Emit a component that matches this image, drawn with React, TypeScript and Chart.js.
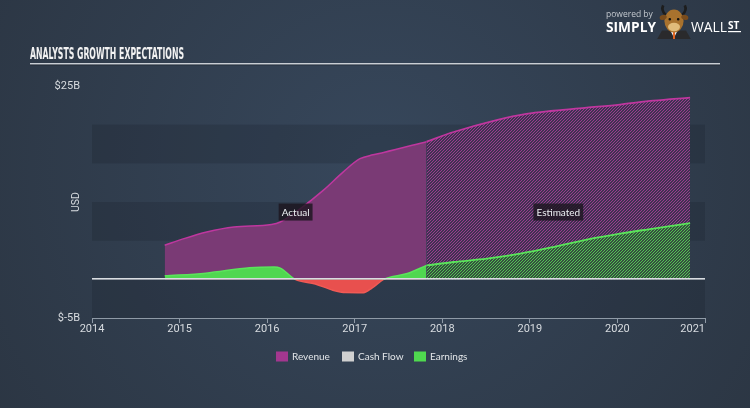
import React, { useEffect, useRef } from "react";
import { Chart, registerables } from "chart.js";

Chart.register(...registerables);

// ---- data (billions USD, x as decimal year) ----
const xTickYears = [2014, 2015, 2016, 2017, 2018, 2019, 2020, 2021];
const yTickValues = [-5, 25];
const yTickLabels = ["$-5B", "$25B"];

const revenueActualX = [2014.83, 2015.05, 2015.31, 2015.62, 2016.05, 2016.15, 2016.38, 2016.64, 2016.87, 2017.06, 2017.21, 2017.33, 2017.82];
const revenueActualY = [4.4, 5.26, 6.12, 6.77, 7.08, 7.41, 9.15, 11.5, 13.9, 15.6, 16.1, 16.4, 17.8];

const revenueEstX = [2017.82, 2018.13, 2018.62, 2018.96, 2019.27, 2019.65, 2020.03, 2020.41, 2020.83];
const revenueEstY = [17.8, 19.05, 20.6, 21.4, 21.8, 22.2, 22.6, 23.1, 23.5];

const earningsActualX = [2014.83, 2015.3, 2015.8, 2016.08, 2016.15, 2016.32, 2016.55, 2016.75, 2016.9, 2017.1, 2017.2, 2017.33, 2017.6, 2017.82];
const earningsActualY = [0.45, 0.8, 1.5, 1.6, 1.45, 0.0, -0.6, -1.4, -1.7, -1.72, -1.1, 0.0, 0.75, 1.8];

const earningsEstX = [2017.82, 2018.13, 2018.51, 2018.89, 2019.27, 2019.65, 2020.03, 2020.41, 2020.83];
const earningsEstY = [1.8, 2.24, 2.67, 3.32, 4.18, 5.14, 5.91, 6.56, 7.28];

const legendLabels = ["Revenue", "Cash Flow", "Earnings"];
const legendColors = ["#a3378f", "#d0d0d0", "#4fd94f"];

const regionLabels = ["Actual", "Estimated"];
const regionLabelValue = 8.7;

const zip = (xs: number[], ys: number[]) => xs.map((x, i) => ({ x, y: ys[i] }));

function makeHatch(bg: string, fg: string, size = 3) {
  const c = document.createElement("canvas");
  c.width = size;
  c.height = size;
  const g = c.getContext("2d")!;
  g.fillStyle = bg;
  g.fillRect(0, 0, size, size);
  g.strokeStyle = fg;
  g.lineWidth = 1;
  g.beginPath();
  g.moveTo(0, size);
  g.lineTo(size, 0);
  g.moveTo(-1, 1);
  g.lineTo(1, -1);
  g.moveTo(size - 1, size + 1);
  g.lineTo(size + 1, size - 1);
  g.stroke();
  return g.createPattern(c, "repeat")!;
}

const REV_FILL = "#7a3a75";
const REV_LINE = "#bf379f";
const EARN_FILL = "#50d750";
const EARN_LINE = "#5be45b";
const NEG_FILL = "#e8504e";
const NEG_LINE = "#f05a55";
const TEXT = "#d8dce0";

function drawBull(ctx: CanvasRenderingContext2D, cx: number, cy: number, s: number) {
  ctx.save();
  ctx.translate(cx, cy);
  ctx.scale(s, s);
  // suit
  ctx.fillStyle = "#2a2a2c";
  ctx.beginPath();
  ctx.moveTo(-10, 8);
  ctx.lineTo(10, 8);
  ctx.lineTo(14, 15);
  ctx.lineTo(-14, 15);
  ctx.closePath();
  ctx.fill();
  ctx.fillStyle = "#f2f2f2";
  ctx.beginPath();
  ctx.moveTo(-3, 8);
  ctx.lineTo(3, 8);
  ctx.lineTo(0, 14);
  ctx.closePath();
  ctx.fill();
  ctx.fillStyle = "#e8641e";
  ctx.fillRect(-0.8, 9, 1.6, 6);
  // horns
  ctx.strokeStyle = "#1d1d1d";
  ctx.lineWidth = 2.2;
  ctx.beginPath();
  ctx.moveTo(-7, -5);
  ctx.quadraticCurveTo(-11, -9, -9, -13);
  ctx.moveTo(7, -5);
  ctx.quadraticCurveTo(11, -9, 9, -13);
  ctx.stroke();
  // head
  ctx.fillStyle = "#a8722e";
  ctx.beginPath();
  ctx.ellipse(0, 0, 8, 9.5, 0, 0, Math.PI * 2);
  ctx.fill();
  ctx.fillStyle = "#7a4c1c";
  ctx.beginPath();
  ctx.ellipse(-9, -3, 3, 2, -0.3, 0, Math.PI * 2);
  ctx.ellipse(9, -3, 3, 2, 0.3, 0, Math.PI * 2);
  ctx.fill();
  ctx.fillStyle = "#e0bb7a";
  ctx.beginPath();
  ctx.ellipse(0, 5, 5, 3.5, 0, 0, Math.PI * 2);
  ctx.fill();
  ctx.fillStyle = "#111";
  ctx.beginPath();
  ctx.arc(-3.5, -1.5, 1.1, 0, Math.PI * 2);
  ctx.arc(3.5, -1.5, 1.1, 0, Math.PI * 2);
  ctx.fill();
  ctx.restore();
}

const decorPlugin = {
  id: "decor",
  beforeDraw(chart: any) {
    const { ctx, chartArea, scales } = chart;
    const W = chart.width;
    const H = chart.height;
    ctx.save();
    const grad = ctx.createRadialGradient(380, 170, 30, 380, 170, 480);
    grad.addColorStop(0, "#36465a");
    grad.addColorStop(1, "#2b3542");
    ctx.fillStyle = grad;
    ctx.fillRect(0, 0, W, H);

    // bands
    const y = scales.y;
    ctx.fillStyle = "rgba(18,26,36,0.2)";
    for (const [a, b] of [[-5, 0], [5, 10], [15, 20]]) {
      const y1 = y.getPixelForValue(b);
      const y2 = y.getPixelForValue(a);
      ctx.fillRect(chartArea.left, y1, chartArea.right - chartArea.left, y2 - y1);
    }

    // title
    ctx.fillStyle = "#f2f2f2";
    ctx.font = "bold 16px 'Liberation Sans Narrow', 'DejaVu Sans Condensed', sans-serif";
    ctx.textBaseline = "alphabetic";
    ctx.textAlign = "left";
    ctx.fillText("ANALYSTS GROWTH EXPECTATIONS", 30, 58.5, 154);
    ctx.fillStyle = "#c9ced4";
    ctx.fillRect(30, 63, 690, 1.5);
    ctx.fillStyle = "rgba(0,0,0,0.25)";
    ctx.fillRect(30, 64.5, 690, 1);

    // logo
    ctx.fillStyle = "#c3c8ce";
    ctx.font = "8.5px 'Open Sans', sans-serif";
    ctx.fillText("powered by", 606, 17);
    ctx.fillStyle = "#ffffff";
    ctx.font = "bold 14px 'Open Sans', sans-serif";
    ctx.fillText("SIMPLY", 606, 32, 50);
    drawBull(ctx, 674, 21, 1.2);
    ctx.font = "14px 'Open Sans', sans-serif";
    ctx.fillText("WALL", 691, 32, 36);
    ctx.font = "bold 10px 'Open Sans', sans-serif";
    ctx.fillText("ST", 728, 29, 13);
    ctx.fillRect(728, 31, 13, 1.2);

    // USD axis title
    ctx.save();
    ctx.translate(76, 202);
    ctx.rotate(-Math.PI / 2);
    ctx.fillStyle = TEXT;
    ctx.font = "10.5px Roboto, sans-serif";
    ctx.textAlign = "center";
    ctx.textBaseline = "middle";
    ctx.fillText("USD", 0, 0);
    ctx.restore();
    ctx.restore();
  },
  afterDatasetsDraw(chart: any) {
    const { ctx, chartArea, scales } = chart;
    const x = scales.x;
    const y = scales.y;
    ctx.save();
    // zero line
    const y0 = Math.round(y.getPixelForValue(0));
    ctx.fillStyle = "#d9dde1";
    ctx.fillRect(chartArea.left, y0 - 1, chartArea.right - chartArea.left, 1.6);

    // region labels
    const ranges = [
      [revenueActualX[0], revenueActualX[revenueActualX.length - 1]],
      [revenueEstX[0], revenueEstX[revenueEstX.length - 1]],
    ];
    ctx.font = "10px Lato, sans-serif";
    ctx.textAlign = "center";
    ctx.textBaseline = "middle";
    regionLabels.forEach((lab, i) => {
      const cx = (x.getPixelForValue(ranges[i][0]) + x.getPixelForValue(ranges[i][1])) / 2;
      const cy = y.getPixelForValue(regionLabelValue);
      const w = ctx.measureText(lab).width + 6;
      ctx.fillStyle = "rgba(28,22,32,0.82)";
      ctx.fillRect(cx - w / 2, cy - 8.5, w, 17);
      ctx.fillStyle = "#eceff2";
      ctx.fillText(lab, cx, cy + 0.5);
    });
    ctx.restore();
  },
  afterDraw(chart: any) {
    const { ctx, chartArea, scales } = chart;
    const x = scales.x;
    ctx.save();
    // x labels
    ctx.fillStyle = TEXT;
    ctx.font = "11px Roboto, sans-serif";
    ctx.textBaseline = "middle";
    xTickYears.forEach((yr, i) => {
      const px = x.getPixelForValue(yr);
      ctx.textAlign = i === xTickYears.length - 1 ? "right" : "center";
      ctx.fillText(String(yr), px, chartArea.bottom + 11);
    });

    // legend
    ctx.font = "10px Lato, sans-serif";
    ctx.textAlign = "left";
    const starts = [276, 342, 414];
    legendLabels.forEach((lab, i) => {
      const sx = starts[i];
      ctx.fillStyle = legendColors[i];
      ctx.fillRect(sx, 351.5, 12, 10);
      ctx.fillStyle = "#e2e5e8";
      ctx.fillText(lab, sx + 16, 357);
    });
    ctx.restore();
  },
};

export default function App() {
  const ref = useRef<HTMLCanvasElement | null>(null);

  useEffect(() => {
    if (!ref.current) return;
    const revHatch = makeHatch("#3f3252", "#9a3c8e", 3);
    const earnHatch = makeHatch("#35503f", "#52c552", 3);

    const chart = new Chart(ref.current, {
      type: "line",
      data: {
        datasets: [
          {
            label: "Earnings",
            data: zip(earningsActualX, earningsActualY),
            borderColor: EARN_LINE,
            borderWidth: 1.5,
            pointRadius: 0,
            cubicInterpolationMode: "monotone",
            fill: { target: "origin", above: EARN_FILL, below: NEG_FILL },
            segment: {
              borderColor: (c: any) => (c.p0.parsed.y < 0 || c.p1.parsed.y < 0 ? NEG_LINE : EARN_LINE),
            },
            order: 0,
          } as any,
          {
            label: "Earnings (estimated)",
            data: zip(earningsEstX, earningsEstY),
            borderColor: EARN_LINE,
            borderWidth: 1.8,
            pointRadius: 0,
            cubicInterpolationMode: "monotone",
            fill: { target: "origin", above: earnHatch },
            backgroundColor: earnHatch,
            order: 1,
          } as any,
          {
            label: "Revenue",
            data: zip(revenueActualX, revenueActualY),
            borderColor: REV_LINE,
            borderWidth: 1.5,
            pointRadius: 0,
            cubicInterpolationMode: "monotone",
            fill: { target: "origin", above: REV_FILL },
            backgroundColor: REV_FILL,
            order: 2,
          } as any,
          {
            label: "Revenue (estimated)",
            data: zip(revenueEstX, revenueEstY),
            borderColor: REV_LINE,
            borderWidth: 1.8,
            pointRadius: 0,
            cubicInterpolationMode: "monotone",
            fill: { target: "origin", above: revHatch },
            backgroundColor: revHatch,
            order: 3,
          } as any,
        ],
      },
      options: {
        animation: false,
        responsive: false,
        maintainAspectRatio: false,
        devicePixelRatio: 1,
        layout: { padding: { left: 0, top: 86, right: 45, bottom: 60 } },
        plugins: {
          legend: { display: false },
          tooltip: { enabled: false },
        },
        scales: {
          x: {
            type: "linear",
            min: 2014,
            max: 2021,
            ticks: { stepSize: 1, display: false },
            grid: {
              display: true,
              drawOnChartArea: false,
              drawTicks: true,
              tickLength: 5,
              color: "#8f9aa6",
            },
            border: { display: true, color: "#8f9aa6", width: 1 },
            afterFit: (s: any) => {
              s.height = 30;
            },
          },
          y: {
            type: "linear",
            min: -5,
            max: 25,
            afterBuildTicks: (s: any) => {
              s.ticks = yTickValues.map((v) => ({ value: v }));
            },
            ticks: {
              color: TEXT,
              font: { size: 11, family: "Roboto" },
              padding: 12,
              callback: (v: any) => yTickLabels[yTickValues.indexOf(Number(v))] ?? "",
            },
            grid: { display: false, drawTicks: false },
            border: { display: false },
            afterFit: (s: any) => {
              s.width = 92;
            },
          },
        },
      },
      plugins: [decorPlugin],
    } as any);
    return () => chart.destroy();
  }, []);

  return (
    <div style={{ position: "fixed", left: 0, top: 0, width: 750, height: 408 }}>
      <canvas ref={ref} width={750} height={408} style={{ width: 750, height: 408, display: "block" }} />
    </div>
  );
}
